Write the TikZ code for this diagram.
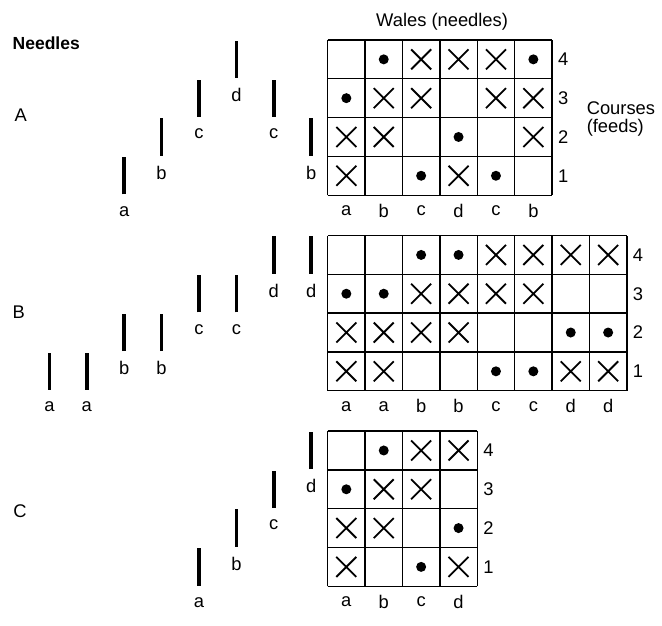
\documentclass[tikz,border=0pt]{standalone}
\usepackage{fontspec}
\setmainfont{Liberation Sans}
\usetikzlibrary{positioning}
\tikzset{
  needle/.style={line width=2.2pt},
  lbl/.style={inner sep=0pt,font=\fontsize{11}{12}\selectfont},
  cellgrid/.style={draw=black,line width=0.8pt},
  cross/.style={line width=1.1pt},
  knit/.style={fill=black},
}

\begin{document}
\begin{tikzpicture}[x=22.44pt,y=23.28pt]
\useasboundingbox (0,0) rectangle (17.70,16.11);
% headings
\node[lbl,anchor=west,font=\fontsize{10.5}{12}\selectfont\bfseries] (needles) at (0.33,15.0) {Needles};
\node[lbl] (wales) at (11.82,15.54) {Wales (needles)};
\node[lbl,anchor=west] (courses) at (15.68,13.32) {Courses};
\node[lbl,anchor=west] (feeds) at (15.68,12.81) {(feeds)};
\node[lbl,anchor=west] (secA) at (0.38,13.14) {A};
\node[lbl,anchor=west] (secB) at (0.33,8.07) {B};
\node[lbl,anchor=west] (secC) at (0.35,2.93) {C};

% A
\begin{scope}[shift={(8.76,11.08)}]
\draw[cellgrid,step={(1,1)}] (0,0) grid (6,4);
\foreach \t/\l [count=\k] in {a/0,b/1,c/2,d/3,c/2,b/1} {
  \draw[needle] (\k-6.44,\l+.02) -- (\k-6.44,\l+.98);
  \node[lbl] (nA\k) at (\k-6.44,\l-.42) {\t};
}
\foreach \t [count=\k] in {a,b,c,d,c,b}
  \node[lbl] (wA\k) at (\k-.5,-.4) {\t};
\foreach \r in {1,...,4}
  \node[lbl] (cA\r) at (6.3,\r-.5) {\r};
\foreach \c/\r in {3/4,4/4,5/4,2/3,3/3,5/3,6/3,1/2,2/2,6/2,1/1,4/1}
  \draw[cross] (\c-.5,\r-.5) ++(-6pt,-6pt) -- ++(12pt,12pt) ++(-12pt,0pt) -- ++(12pt,-12pt);
\foreach \c/\r in {2/4,6/4,1/3,4/2,3/1,5/1}
  \fill[knit] (\c-.5,\r-.5) circle (3pt);
\end{scope}

% B
\begin{scope}[shift={(8.76,6.04)}]
\draw[cellgrid,step={(1,1)}] (0,0) grid (8,4);
\foreach \t/\l [count=\k] in {a/0,a/0,b/1,b/1,c/2,c/2,d/3,d/3} {
  \draw[needle] (\k-8.44,\l+.02) -- (\k-8.44,\l+.98);
  \node[lbl] (nB\k) at (\k-8.44,\l-.42) {\t};
}
\foreach \t [count=\k] in {a,a,b,b,c,c,d,d}
  \node[lbl] (wB\k) at (\k-.5,-.4) {\t};
\foreach \r in {1,...,4}
  \node[lbl] (cB\r) at (8.3,\r-.5) {\r};
\foreach \c/\r in {5/4,6/4,7/4,8/4,3/3,4/3,5/3,6/3,1/2,2/2,3/2,4/2,1/1,2/1,7/1,8/1}
  \draw[cross] (\c-.5,\r-.5) ++(-6pt,-6pt) -- ++(12pt,12pt) ++(-12pt,0pt) -- ++(12pt,-12pt);
\foreach \c/\r in {3/4,4/4,1/3,2/3,7/2,8/2,5/1,6/1}
  \fill[knit] (\c-.5,\r-.5) circle (3pt);
\end{scope}

% C
\begin{scope}[shift={(8.76,1.0)}]
\draw[cellgrid,step={(1,1)}] (0,0) grid (4,4);
\foreach \t/\l [count=\k] in {a/0,b/1,c/2,d/3} {
  \draw[needle] (\k-4.44,\l+.02) -- (\k-4.44,\l+.98);
  \node[lbl] (nC\k) at (\k-4.44,\l-.42) {\t};
}
\foreach \t [count=\k] in {a,b,c,d}
  \node[lbl] (wC\k) at (\k-.5,-.4) {\t};
\foreach \r in {1,...,4}
  \node[lbl] (cC\r) at (4.3,\r-.5) {\r};
\foreach \c/\r in {3/4,4/4,2/3,3/3,1/2,2/2,1/1,4/1}
  \draw[cross] (\c-.5,\r-.5) ++(-6pt,-6pt) -- ++(12pt,12pt) ++(-12pt,0pt) -- ++(12pt,-12pt);
\foreach \c/\r in {2/4,1/3,4/2,3/1}
  \fill[knit] (\c-.5,\r-.5) circle (3pt);
\end{scope}
\end{tikzpicture}
\end{document}
